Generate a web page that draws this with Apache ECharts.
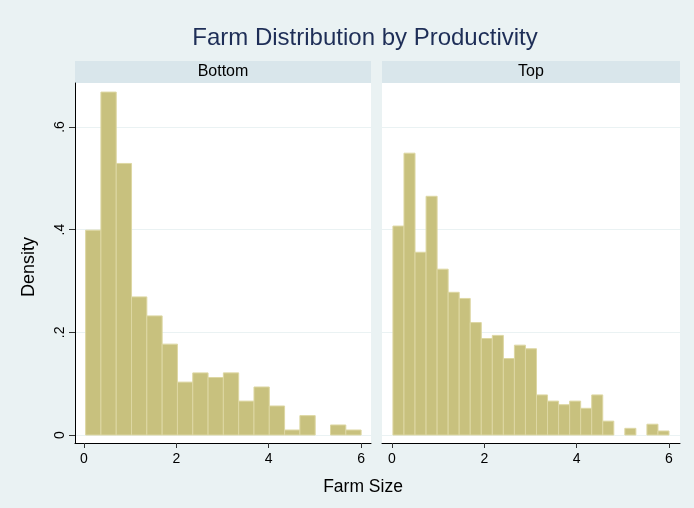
<!DOCTYPE html>
<html>
<head>
<meta charset="utf-8">
<script src="https://cdn.jsdelivr.net/npm/echarts@6/dist/echarts.min.js"></script>
<style>
html,body{margin:0;padding:0;background:#eaf2f3;}
#chart{width:694px;height:508px;}
</style>
</head>
<body>
<div id="chart"></div>
<script>
// ---- Data ----
const panelNames = ['Bottom', 'Top'];
const bottomBinStart = 0.035;
const bottomBinWidth = 0.3315;
const bottomDensity = [0.399, 0.668, 0.529, 0.269, 0.232, 0.177, 0.103, 0.121, 0.112, 0.121, 0.066, 0.0935, 0.0565, 0.0097, 0.0377, 0, 0.0195, 0.0097];
const topBinStart = 0.02;
const topBinWidth = 0.2392;
const topDensity = [0.407, 0.549, 0.356, 0.465, 0.323, 0.278, 0.266, 0.219, 0.188, 0.194, 0.149, 0.175, 0.168, 0.078, 0.066, 0.059, 0.066, 0.052, 0.078, 0.027, 0, 0.013, 0, 0.021, 0.0078];
const xTicks = [0, 2, 4, 6];
const yTicks = [0, 0.2, 0.4, 0.6];
const titleText = 'Farm Distribution by Productivity';
const xTitle = 'Farm Size';
const yTitle = 'Density';

function binsToData(start, width, heights) {
  return heights.map((h, i) => [start + i * width, start + (i + 1) * width, h]);
}

const FONT = 'Liberation Sans, Arial, sans-serif';
const BAR_FILL = '#c8c17e';
const BAR_EDGE = '#ddd7a3';
const GRID_COLOR = '#eaf2f3';

function renderBar(params, api) {
  const x0 = api.value(0), x1 = api.value(1), h = api.value(2);
  if (!h) return null;
  const p0 = api.coord([x0, h]);
  const p1 = api.coord([x1, 0]);
  return {
    type: 'rect',
    shape: { x: p0[0], y: p0[1], width: p1[0] - p0[0], height: p1[1] - p0[1] },
    style: { fill: BAR_FILL, stroke: BAR_EDGE, lineWidth: 1 }
  };
}

const yFmt = v => (v === 0 ? '0' : String(+v.toFixed(1)).replace(/^0\./, '.'));

function makeY(idx, showAxis) {
  return {
    gridIndex: idx, type: 'value', min: -0.0156, max: 0.6857,
    axisLine: { show: showAxis, onZero: false, lineStyle: { color: '#000', width: 1 } },
    axisTick: { show: showAxis, customValues: yTicks, length: 6, lineStyle: { color: '#333' } },
    axisLabel: { show: showAxis, customValues: yTicks, formatter: yFmt, rotate: 90, margin: 8,
                 color: '#000', fontSize: 14, fontFamily: FONT },
    splitLine: { show: true, lineStyle: { color: GRID_COLOR, width: 1 } }
  };
}
function makeX(idx, mn, mx) {
  return {
    gridIndex: idx, type: 'value', min: mn, max: mx,
    axisLine: { show: true, onZero: false, lineStyle: { color: '#000', width: 1 } },
    axisTick: { show: true, customValues: xTicks, length: 5, lineStyle: { color: '#333' } },
    axisLabel: { show: true, customValues: xTicks, margin: 9, color: '#000', fontSize: 14, fontFamily: FONT },
    splitLine: { show: false }
  };
}

const chart = echarts.init(document.getElementById('chart'), null, { renderer: 'canvas' });
chart.setOption({
  backgroundColor: '#eaf2f3',
  animation: false,
  grid: [
    { left: 75, right: 323, top: 83, bottom: 65, show: true, backgroundColor: '#fff', borderWidth: 0 },
    { left: 382, right: 14, top: 83, bottom: 65, show: true, backgroundColor: '#fff', borderWidth: 0 }
  ],
  xAxis: [makeX(0, -0.195, 6.216), makeX(1, -0.217, 6.238)],
  yAxis: [makeY(0, true), makeY(1, false)],
  graphic: [
    { type: 'rect', shape: { x: 75, y: 61, width: 296, height: 22 }, style: { fill: '#d9e6eb' }, silent: true },
    { type: 'rect', shape: { x: 382, y: 61, width: 298, height: 22 }, style: { fill: '#d9e6eb' }, silent: true },
    { type: 'text', x: 223, y: 72, style: { text: panelNames[0], fill: '#000', font: '16px ' + FONT, align: 'center', verticalAlign: 'middle' } },
    { type: 'text', x: 531, y: 72, style: { text: panelNames[1], fill: '#000', font: '16px ' + FONT, align: 'center', verticalAlign: 'middle' } },
    { type: 'text', x: 365, y: 38, style: { text: titleText, fill: '#1e2e57', font: '24px ' + FONT, align: 'center', verticalAlign: 'middle' } },
    { type: 'text', x: 363, y: 487, style: { text: xTitle, fill: '#000', font: '17.5px ' + FONT, align: 'center', verticalAlign: 'middle' } },
    { type: 'text', x: 29, y: 267, rotation: Math.PI / 2, style: { text: yTitle, fill: '#000', font: '18px ' + FONT, align: 'center', verticalAlign: 'middle' } }
  ],
  series: [
    { type: 'custom', xAxisIndex: 0, yAxisIndex: 0, renderItem: renderBar,
      encode: { x: [0, 1], y: 2 }, data: binsToData(bottomBinStart, bottomBinWidth, bottomDensity) },
    { type: 'custom', xAxisIndex: 1, yAxisIndex: 1, renderItem: renderBar,
      encode: { x: [0, 1], y: 2 }, data: binsToData(topBinStart, topBinWidth, topDensity) }
  ]
});
</script>
</body>
</html>
